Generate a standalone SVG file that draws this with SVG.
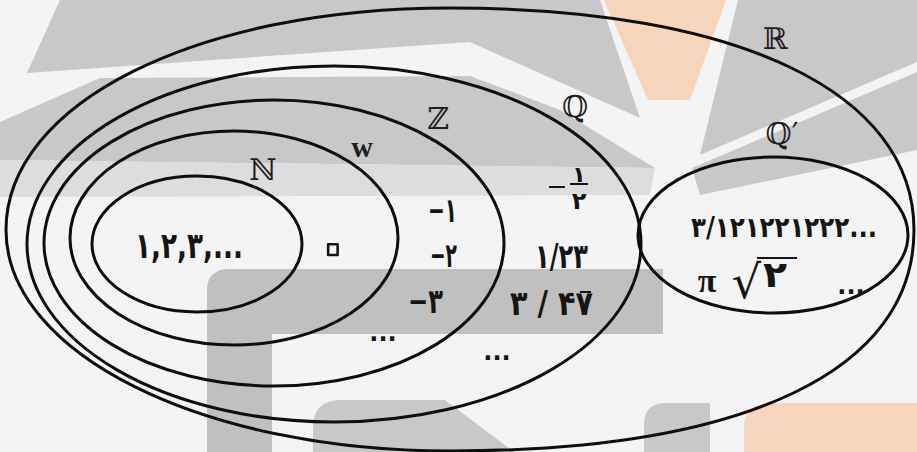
<svg xmlns="http://www.w3.org/2000/svg" width="917" height="452" viewBox="0 0 917 452">
<style>
.set{fill:none;stroke:#0e0e0e;stroke-width:3}
.lbl{font-family:"DejaVu Serif","DejaVu Sans",serif;font-size:30px;fill:#1e1e1e;text-anchor:middle}
.num{font-family:"DejaVu Sans",sans-serif;font-weight:bold;font-size:34px;fill:#151515}
.dots{font-family:"DejaVu Sans",sans-serif;font-weight:bold;font-size:24px;fill:#151515;text-anchor:middle}
.bar{stroke:#151515;stroke-width:2}
.wm{fill:#c8c8c8}
.or{fill:#f6d5bc}
</style>
<rect width="917" height="452" fill="#f4f4f5"/>
<g id="watermark">
<polygon class="wm" points="60,0 600,0 640,118 470,42 27,73"/>
<polygon class="wm" points="0,122 100,78 470,76 560,110 655,168 0,160"/>
<polygon fill="#dddddd" points="0,160 655,168 650,195 0,197"/>
<polygon class="or" points="604,0 726,0 690,100 648,100"/>
<polygon class="wm" points="738,0 917,0 917,62 700,155"/>
<polygon class="wm" points="692,168 917,72 917,150 700,195"/>
<path d="M207,452 V290 Q207,269 230,269 H663 V334 H272 V452 Z" fill="#c0c0c0"/>
<path class="wm" d="M313,452 V428 Q313,400 341,400 H445 L514,452 Z"/>
<path class="wm" d="M644,452 V425 Q644,403 666,403 H710 V452 Z"/>
<path class="or" d="M744,452 V428 Q744,403 770,403 H917 V452 Z"/>
</g>
<g id="connectors"></g>
<g id="set-R">
<path class="set" d="M450,8 C738,8 914,92 914,230 C914,370 747,451 450,451 C201,451 6,353 6,230 C6,103 197,8 450,8 Z"/>
<text class="lbl" x="775" y="49">ℝ</text>
</g>
<g id="set-Q">
<ellipse class="set" cx="334" cy="244" rx="307" ry="178"/>
<text class="lbl" x="575" y="117">ℚ</text>
<line class="bar" x1="549" y1="187" x2="565" y2="187"/>
<text class="num" x="579" y="182" style="font-size:22px;text-anchor:middle">۱</text>
<line class="bar" x1="570" y1="184" x2="588" y2="184"/>
<text class="num" x="579" y="209" style="font-size:24px;text-anchor:middle">۲</text>
<text class="num" x="535" y="268" textLength="53" lengthAdjust="spacingAndGlyphs">۱/۲۳</text>
<text class="num" x="510" y="315" textLength="83" lengthAdjust="spacingAndGlyphs">۳ / ۴۷</text>
<line class="bar" x1="580" y1="292" x2="591" y2="292"/>
<text class="dots" x="497" y="360">...</text>
</g>
<g id="set-Z">
<ellipse class="set" cx="274" cy="243" rx="230" ry="143"/>
<text class="lbl" x="438" y="129">ℤ</text>
<text class="num" x="428" y="222" textLength="29" lengthAdjust="spacingAndGlyphs">−۱</text>
<text class="num" x="430" y="267" textLength="27" lengthAdjust="spacingAndGlyphs">−۲</text>
<text class="num" x="408" y="313" textLength="35" lengthAdjust="spacingAndGlyphs">−۳</text>
<text class="dots" x="383" y="341">...</text>
</g>
<g id="set-W">
<ellipse class="set" cx="234" cy="238" rx="164" ry="107"/>
<text x="362" y="157" style="font-family:'Liberation Serif',serif;font-weight:bold;font-size:30px;fill:#1e1e1e;text-anchor:middle">w</text>
<text x="333" y="274" style="font-family:'DejaVu Sans',sans-serif;font-size:88px;fill:none;stroke:#151515;stroke-width:2.6;stroke-linejoin:round;text-anchor:middle">۰</text>
</g>
<g id="set-N">
<ellipse class="set" cx="197" cy="244" rx="105" ry="68"/>
<text class="lbl" x="263" y="180">ℕ</text>
<text class="num" x="135" y="258" style="font-size:36px" textLength="108" lengthAdjust="spacingAndGlyphs">۱,۲,۳,...</text>
</g>
<g id="set-Qprime">
<ellipse class="set" cx="773" cy="235" rx="135" ry="78"/>
<text class="lbl" x="782" y="144">ℚ′</text>
<text class="num" x="784" y="237" style="font-size:28px;text-anchor:middle" textLength="186" lengthAdjust="spacingAndGlyphs">۳/۱۲۱۲۲۱۲۲۲...</text>
<text x="707" y="292" style="font-family:'Liberation Serif',serif;font-weight:bold;font-size:34px;fill:#151515;text-anchor:middle">π</text>
<text x="761" y="298" style="font-family:'DejaVu Sans',sans-serif;font-size:46px;fill:#151515;text-anchor:end">√</text>
<line class="bar" x1="757" y1="258" x2="797" y2="258"/>
<text class="num" x="763" y="287" style="font-size:36px" textLength="24" lengthAdjust="spacingAndGlyphs">۲</text>
<text class="dots" x="851" y="294">...</text>
</g>
</svg>
